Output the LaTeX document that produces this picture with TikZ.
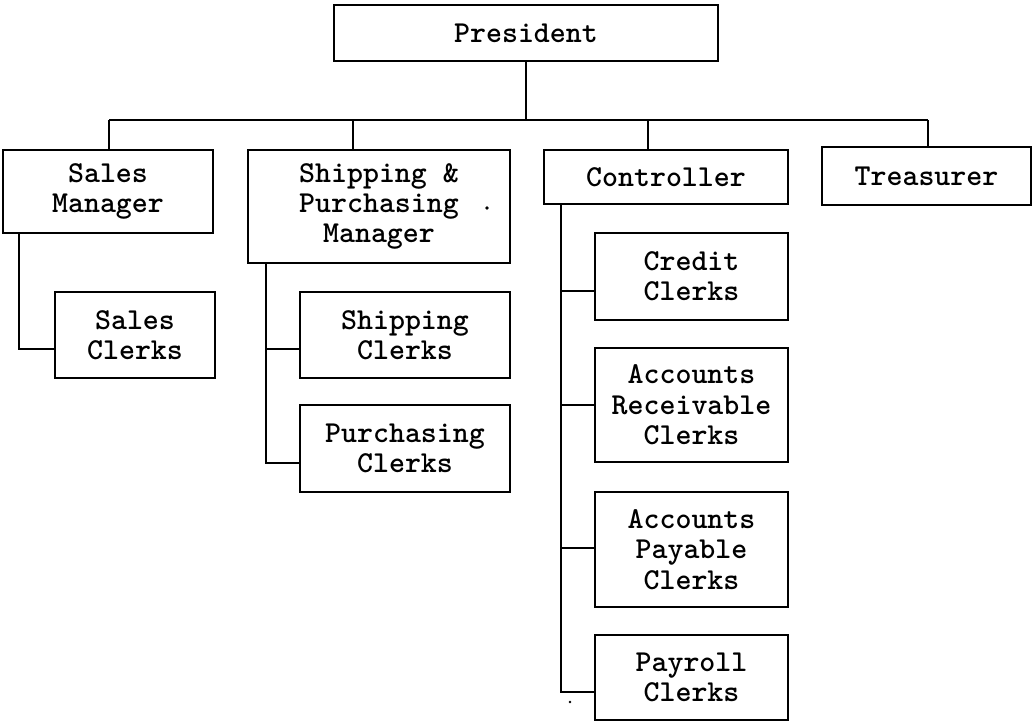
\documentclass[tikz,border=0pt]{standalone}
\usepackage{fontspec}
\usetikzlibrary{calc}
\begin{document}
\begin{tikzpicture}[x=0.5pt,y=-0.5pt,
  box/.style={draw,line width=1.2pt,inner sep=0pt,align=center,
    font=\ttfamily\bfseries\fontsize{15.2}{15.2}\selectfont},
  link/.style={line width=1.1pt}]
\useasboundingbox (0,0) rectangle (1034,723);
% boxes
\node[box,minimum width=192pt,minimum height=28pt] (pres) at (526,33) {President};
\node[box,minimum width=105pt,minimum height=41.5pt] (sm) at (108,191.5) {Sales\\Manager};
\node[box,minimum width=131pt,minimum height=56.5pt] (spm) at (379,206.5) {Shipping \&\\Purchasing\\Manager};
\node[box,minimum width=122pt,minimum height=27pt] (ctrl) at (666,177) {Controller};
\node[box,minimum width=104.5pt,minimum height=29pt] (tr) at (926.5,176) {Treasurer};
\node[box,minimum width=80pt,minimum height=43pt] (sc) at (135,335) {Sales\\Clerks};
\node[box,minimum width=105pt,minimum height=43pt] (shc) at (405,335) {Shipping\\Clerks};
\node[box,minimum width=105pt,minimum height=43.5pt] (pc) at (405,448.5) {Purchasing\\Clerks};
\node[box,minimum width=96.5pt,minimum height=43.5pt] (cc) at (691.5,276.5) {Credit\\Clerks};
\node[box,minimum width=96.5pt,minimum height=57pt] (ar) at (691.5,405) {Accounts\\Receivable\\Clerks};
\node[box,minimum width=96.5pt,minimum height=57.5pt] (ap) at (691.5,549.5) {Accounts\\Payable\\Clerks};
\node[box,minimum width=96.5pt,minimum height=42.5pt] (pay) at (691.5,677.5) {Payroll\\Clerks};
% bus
\coordinate (b1) at (109,120);
\coordinate (b2) at (353,120);
\coordinate (b3) at (648,120);
\coordinate (b4) at (928,120);
\draw[link] (b1) -- (b4);
\draw[link] (pres.south) -- (pres.south |- b1);
\draw[link] (b1) -- (b1 |- sm.north);
\draw[link] (b2) -- (b2 |- spm.north);
\draw[link] (b3) -- (b3 |- ctrl.north);
\draw[link] (b4) -- (b4 |- tr.north);
% spine tops and branch points
\coordinate (s1) at ($(sm.south west)+(17,0)$);
\coordinate (s2) at ($(spm.south west)+(19,0)$);
\coordinate (s3) at ($(ctrl.south west)+(18,0)$);
\coordinate (eSC) at ($(sc.west)+(0,14)$);
\coordinate (eSH) at ($(shc.west)+(0,14)$);
\coordinate (ePC) at ($(pc.west)+(0,14.5)$);
\coordinate (eCC) at ($(cc.west)+(0,14.5)$);
\coordinate (eAR) at (ar.west);
\coordinate (eAP) at ($(ap.west)+(0,-1.5)$);
\coordinate (ePY) at ($(pay.west)+(0,14.5)$);
% sales
\draw[link] (s1) |- (eSC);
% shipping & purchasing
\draw[link] (s2) |- (ePC);
\draw[link] (s2 |- eSH) -- (eSH);
% controller
\draw[link] (s3) |- (ePY);
\draw[link] (s3 |- eCC) -- (eCC);
\draw[link] (s3 |- eAR) -- (eAR);
\draw[link] (s3 |- eAP) -- (eAP);
% specks
\fill (487,208) circle[radius=0.9pt];
\fill (570,702) circle[radius=0.7pt];
\end{tikzpicture}
\end{document}
